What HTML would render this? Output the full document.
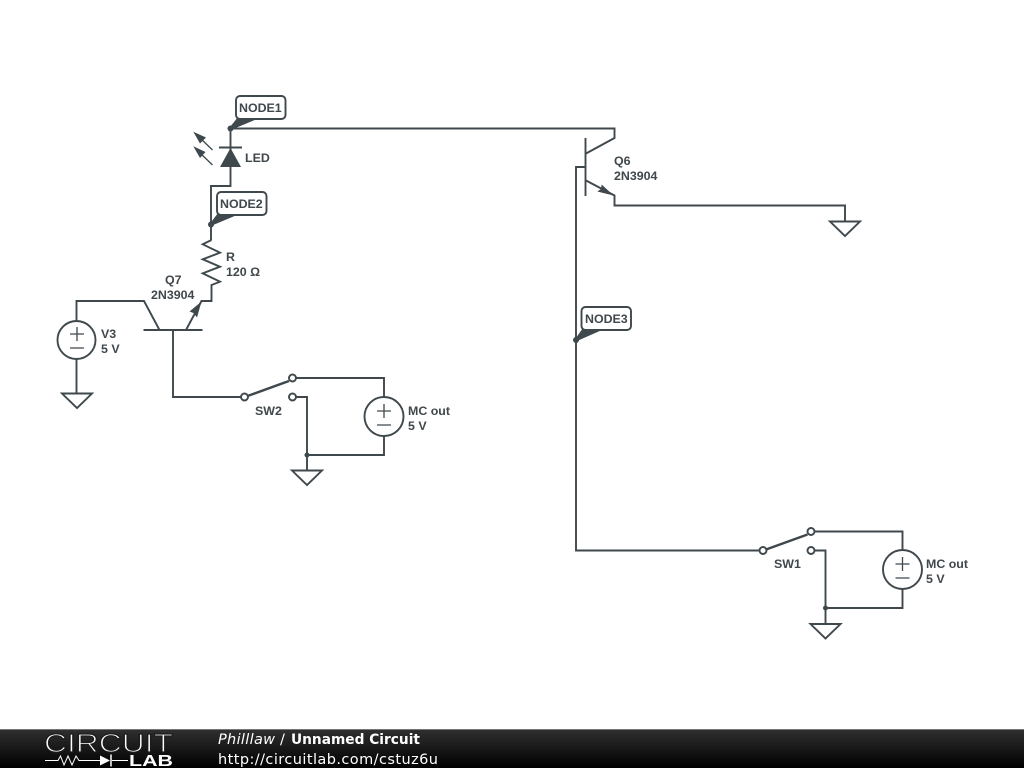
<!DOCTYPE html>
<html><head><meta charset="utf-8"><style>
html,body{margin:0;padding:0;background:#fff;width:1024px;height:768px;overflow:hidden}
svg{display:block}
.w{fill:none;stroke:#3f484c;stroke-width:1.9}
.s{fill:none;stroke:#3f484c;stroke-width:1.3}
.t{font:bold 12.4px "Liberation Sans",sans-serif;fill:#40484c}
.f{fill:#3f484c}
.g{fill:#fff;stroke:#3f484c;stroke-width:1.9}
.n{fill:#fff;stroke:#3f484c;stroke-width:1.9}
.u{font:14.5px "DejaVu Sans",sans-serif;fill:#fff}
</style></head><body>
<svg width="1024" height="768" viewBox="0 0 1024 768" xmlns="http://www.w3.org/2000/svg">
<defs><linearGradient id="b" x1="0" y1="0" x2="0" y2="1"><stop offset="0" stop-color="#303030"/><stop offset="1" stop-color="#000"/></linearGradient></defs>

<!-- top wire and LED -->
<path class="w" d="M230.500 128.500H614.500V138L586 153.500"/>
<path class="w" d="M230.500 128.500V186H211V240"/>
<path class="w" d="M219 147.500H242"/>
<path class="f" d="M230.500 148L220 167H241Z"/>
<path class="s" d="M212.500 150L198 136M212.500 165L198 151"/>
<path class="f" d="M193.300 131.700L206 137.500L200 143.500ZM193.300 146.200L205.500 152L200 158Z"/>
<circle class="f" cx="230.500" cy="128.500" r="3"/>
<circle class="f" cx="211" cy="224.500" r="3"/>
<circle class="f" cx="576" cy="340" r="3"/>

<!-- Q6 -->
<path class="w" d="M585.500 138V196"/>
<path class="w" d="M586 180.500L614.500 195.500V205.500H845V221"/>
<path class="f" d="M613.500 195.500L601.700 184.500L601 189L597.300 191.500Z"/>
<path class="w" d="M585.500 167H576V550.500H760"/>

<!-- R and Q7 -->
<path class="w" d="M211.500 240L202.700 244.300L220 252.700L202.700 259.300L220 266.700L202.700 273.300L220 281.700L211.500 285V301H201.500L186 330"/>
<path class="f" d="M201.500 301.500L189.500 311.500L193.500 313L197 317.500Z"/>
<path class="w" d="M143.500 330H202.500"/>
<path class="w" d="M159.500 330L144 301H76.500V321"/>
<path class="w" d="M173 330V397H241"/>
<path class="w" d="M76.500 359V393"/>

<!-- V3 -->
<circle class="n" cx="76.500" cy="340" r="19"/>
<path class="s" d="M70 334H84M77 327V341M70 348H84"/>

<!-- SW2 -->
<path class="w" style="stroke-width:2.500" d="M247.500 396L289 381"/>
<path class="w" d="M296 378H384V397M384 436V455H307M296 397H307V470"/>
<circle class="n" cx="244.500" cy="397" r="3.500"/>
<circle class="n" cx="292.500" cy="378" r="3.500"/>
<circle class="n" cx="292.500" cy="397" r="3.500"/>
<circle class="n" cx="384" cy="416.500" r="19.500"/>
<path class="s" d="M377 411H391M384 404V418M377 425H391"/>
<circle class="f" cx="307" cy="455" r="2.500"/>

<!-- SW1 -->
<path class="w" style="stroke-width:2.500" d="M766 549.500L807.500 534.500"/>
<path class="w" d="M814.500 531.500H902.500V551M902.500 589V608H825.500M814.500 550.500H825.500V624"/>
<circle class="n" cx="763" cy="550.500" r="3.500"/>
<circle class="n" cx="811" cy="531.500" r="3.500"/>
<circle class="n" cx="811" cy="550.500" r="3.500"/>
<circle class="n" cx="902.500" cy="569.500" r="19.500"/>
<path class="s" d="M895.500 564H909.500M902.500 557V571M895.500 578H909.500"/>
<circle class="f" cx="825.500" cy="608" r="2.500"/>

<!-- grounds -->
<path class="g" d="M62 393.500H92L77 408Z"/>
<path class="g" d="M292 470.500H322L307 485Z"/>
<path class="g" d="M830 221.500H860L845 236Z"/>
<path class="g" d="M810.500 624H840.500L825.500 638.500Z"/>

<!-- node tags -->
<path class="f" d="M230 127L238 117H257V119L232 129.500Z"/>
<rect class="n" x="236" y="96" width="49.500" height="23" rx="4"/>
<text class="t" x="239" y="112">NODE1</text>
<path class="f" d="M210.500 223L218 213H237V215L212 225.500Z"/>
<rect class="n" x="217" y="192" width="49.500" height="23" rx="4"/>
<text class="t" x="220" y="208">NODE2</text>
<path class="f" d="M575.500 338.500L583 328H602V330L577 341Z"/>
<rect class="n" x="581.500" y="307" width="49.500" height="23" rx="4"/>
<text class="t" x="585" y="323">NODE3</text>

<!-- labels -->
<text class="t" x="245" y="162">LED</text>
<text class="t" x="226" y="261">R</text>
<text class="t" x="226" y="276">120 Ω</text>
<text class="t" x="165" y="284">Q7</text>
<text class="t" x="151" y="299">2N3904</text>
<text class="t" x="101" y="338">V3</text>
<text class="t" x="101" y="353">5 V</text>
<text class="t" x="614" y="165">Q6</text>
<text class="t" x="614" y="180">2N3904</text>
<text class="t" x="255" y="415">SW2</text>
<text class="t" x="408" y="415">MC out</text>
<text class="t" x="408" y="430">5 V</text>
<text class="t" x="774" y="568">SW1</text>
<text class="t" x="926" y="568">MC out</text>
<text class="t" x="926" y="583">5 V</text>

<!-- footer -->
<rect x="0" y="729" width="1024" height="39" fill="url(#b)"/>
<rect x="0" y="729" width="1024" height="1" fill="#777"/>
<text x="44" y="752" font-family="Liberation Sans,sans-serif" font-size="26" fill="#fff" stroke="#1c1c1c" stroke-width="1.200" textLength="129" lengthAdjust="spacingAndGlyphs">CIRCUIT</text>
<path d="M45 760.500H58L60.500 756L64 765L68 756L72 765L76 756L79 760.500H100M112 760.500H128" fill="none" stroke="#fff" stroke-width="1"/>
<path d="M100 755.500L110 760.500L100 765.500Z" fill="#fff"/>
<path d="M111 754.500V766.500" stroke="#fff" stroke-width="1.500"/>
<text x="129" y="766" font-family="Liberation Sans,sans-serif" font-weight="bold" font-size="16" fill="#fff" textLength="44" lengthAdjust="spacingAndGlyphs">LAB</text>
<text class="u" x="218" y="744" textLength="57" style="font-style:italic">Philllaw</text>
<text class="u" x="280" y="744">/</text>
<text class="u" x="291" y="744" style="font-weight:bold" textLength="129" lengthAdjust="spacingAndGlyphs">Unnamed Circuit</text>
<text class="u" x="218" y="764" textLength="220">http://circuitlab.com/cstuz6u</text>
</svg>
</body></html>
